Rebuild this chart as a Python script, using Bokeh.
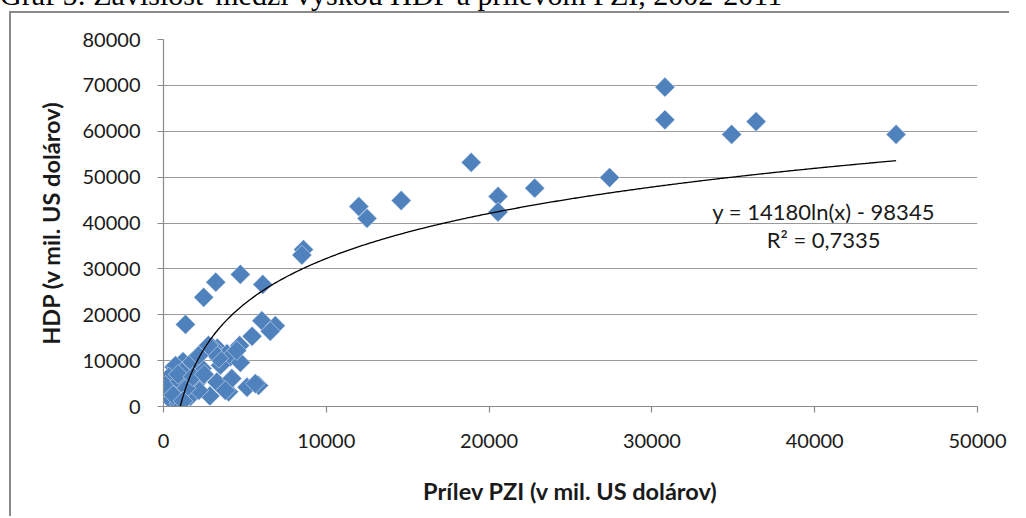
import numpy as np
from bokeh.plotting import figure
from bokeh.models import Range1d, Label, Div, FixedTicker, ColumnDataSource
from bokeh.layouts import column
from bokeh.embed import file_html
from bokeh.resources import INLINE

caption = "Graf 5: Závislosť medzi výškou HDP a prílevom PZI, 2002-2011"
x_title = "Prílev PZI (v mil. US dolárov)"
y_title = "HDP (v mil. US dolárov)"

# FDI inflow (mil. USD)
pzi = [30800, 30800, 36400, 34900, 45000, 18900, 27400, 22800, 20550, 20550,
       14600, 12000, 12500, 8600, 8500, 4720, 3210, 6100, 2470, 1350,
       6040, 6870, 6560, 5440, 4680, 3300, 3000, 3900, 2270, 4110,
       4720, 3500, 1200, 650, 450, 250, 450, 1650, 2850, 2000,
       3280, 4000, 5130, 5840, 1650, 4500, 3400, 2980, 2370, 4200,
       5640, 3800, 2170, 1550, 740, 330, 120, 940, 1130, 1750, 2170, 2760,
       800, 1000, 1400, 600, 1200, 900, 1800, 2500]
# GDP (mil. USD)
hdp = [69600, 62500, 62100, 59300, 59300, 53200, 49900, 47600, 45800, 42400,
       44900, 43600, 41000, 34200, 33000, 28800, 27100, 26600, 23800, 17900,
       18700, 17600, 16400, 15300, 13300, 12700, 12900, 11500, 11500, 10800,
       9600, 9000, 9800, 8600, 6400, 4300, 1400, 2200, 2300, 5000,
       5300, 3200, 4200, 4600, 7600, 12200, 10500, 12200, 8300, 6100,
       5000, 3500, 3500, 5300, 8900, 6400, 4600, 600, 7500, 9700, 11100, 13300,
       3000, 5500, 4000, 2500, 1200, 7000, 6500, 7000]

x_ticks = [0, 10000, 20000, 30000, 40000, 50000]
y_ticks = [0, 10000, 20000, 30000, 40000, 50000, 60000, 70000, 80000]

# logarithmic trend shown in the chart: y = a*ln(x) + b
trend_a = 14180
trend_b = -98345
trend_x_start = 1030
trend_x_end = 45000
eq_text = "y = 14180ln(x) - 98345"
r2_text = "R² = 0,7335"

FONT = "Lato"

p = figure(width=1000, height=505, output_backend="svg", toolbar_location=None,
           x_range=Range1d(0, 50000), y_range=Range1d(0, 80000),
           min_border_left=152, min_border_right=34, min_border_top=26,
           min_border_bottom=112, margin=(0, 0, 0, 9),
           styles={"border-left": "2px solid #8a8a8a", "border-top": "2px solid #8a8a8a"})
p.outline_line_color = None
p.background_fill_color = "white"
p.border_fill_color = "white"

p.xgrid.grid_line_color = None
p.ygrid.grid_line_color = "#9a9a9a"
p.ygrid.grid_line_width = 1.2

p.xaxis.ticker = FixedTicker(ticks=x_ticks)
p.yaxis.ticker = FixedTicker(ticks=y_ticks)
for ax in (p.xaxis, p.yaxis):
    ax.axis_line_color = "#8a8a8a"
    ax.axis_line_width = 1.2
    ax.major_tick_line_color = "#8a8a8a"
    ax.major_tick_line_width = 1.2
    ax.major_tick_in = 0
    ax.major_tick_out = 6
    ax.minor_tick_line_color = None
    ax.major_label_text_font = FONT
    ax.major_label_text_font_size = "20px"
    ax.major_label_text_color = "#1a1a1a"
    ax.axis_label_text_font = FONT
    ax.axis_label_text_font_size = "23.5px"
    ax.axis_label_text_font_style = "bold"
    ax.axis_label_text_color = "#1a1a1a"
p.xaxis.major_label_standoff = 21
p.yaxis.major_label_standoff = 17
p.xaxis.axis_label = x_title
p.yaxis.axis_label = y_title
p.xaxis.axis_label_standoff = 26
p.yaxis.axis_label_standoff = 15
p.xaxis.formatter.use_scientific = False
p.yaxis.formatter.use_scientific = False

src = ColumnDataSource(dict(x=pzi, y=hdp))
p.scatter("x", "y", source=src, marker="square", size=14, angle=np.pi / 4,
          fill_color="#4F81BD", line_color="#dce6f2", line_width=0.7, line_alpha=0.8)

tx = np.linspace(trend_x_start, trend_x_end, 500)
ty = trend_a * np.log(tx) + trend_b
p.line(tx, ty, line_color="black", line_width=1.3)

p.add_layout(Label(x=40550, y=42500, text=eq_text, text_align="center",
                   text_baseline="middle", text_font=FONT, text_font_size="22px",
                   text_color="#1a1a1a"))
p.add_layout(Label(x=40550, y=36400, text=r2_text, text_align="center",
                   text_baseline="middle", text_font=FONT, text_font_size="22px",
                   text_color="#1a1a1a"))

cap = Div(text=('<div style="position:relative;top:-20px;font-family:\'Liberation Serif\';'
                'font-size:30px;line-height:30px;white-space:nowrap;color:#000">'
                + caption + '</div>'),
          width=1000, height=11, margin=(0, 0, 0, 0),
          styles={"overflow": "hidden", "height": "11px"})

layout = column(cap, p, spacing=0)
open("out.html", "w").write(file_html(layout, INLINE))
